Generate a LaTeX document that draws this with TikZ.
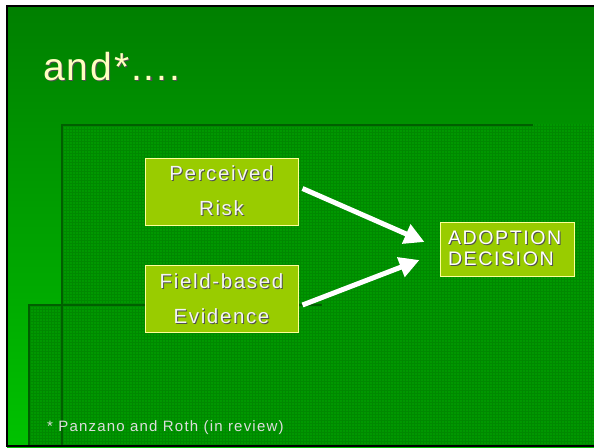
\documentclass[tikz,border=0pt]{standalone}
\usepackage{fontspec}
\setmainfont[LetterSpace=8]{Liberation Sans}
\usetikzlibrary{positioning,arrows.meta}

\definecolor{bgtop}{HTML}{007F00}
\definecolor{bgbottom}{HTML}{00C200}
\definecolor{texfill}{HTML}{009800}
\definecolor{texline}{HTML}{007000}
\definecolor{edgedark}{HTML}{005F00}
\definecolor{boxfill}{HTML}{99CC00}
\definecolor{boxline}{HTML}{FFFF99}
\definecolor{boxtext}{HTML}{F4F4F4}
\definecolor{shadowgray}{HTML}{505050}
\definecolor{titletext}{HTML}{FFFFC0}
\definecolor{notetext}{HTML}{DDDDDD}

\newcommand{\shd}[1]{\leavevmode\rlap{\kern1pt\raisebox{-1pt}{\color{shadowgray}#1}}#1}

\begin{document}
\begin{tikzpicture}[x=1pt,y=-1pt,node distance=3cm,on grid,
    box/.style={draw=boxline,fill=boxfill,line width=1pt,minimum width=153pt,minimum height=67pt,
      align=center,text=boxtext,font=\fontsize{20.5}{35}\selectfont},
    bigarrow/.style={draw=white,line width=5pt,arrows={-Triangle[length=20pt 0,width=20pt 0]}},
    gridline/.style={texline,line width=.7pt,opacity=.4}]
  \useasboundingbox (0,0) rectangle (594,447);
  % slide background
  \fill[white] (0,0) rectangle (594,447);
  \shade[top color=bgtop,bottom color=bgbottom] (7,6) rectangle (594,447);
  \draw[black,line width=2.5pt] (7,447) -- (7,6) -- (594,6);
  \draw[black,line width=2pt] (7,446) -- (594,446);
  % textured panels
  \fill[texfill] (61,124) rectangle (594,445);
  \fill[texfill] (28,304) rectangle (594,445);
  \draw[gridline] (61,124) grid[step=3pt] (594,445);
  \draw[gridline] (28,304) grid[step=3pt] (61,445);
  \draw[edgedark,line width=2.5pt] (62,445) -- (62,125) -- (533,125);
  \draw[edgedark,line width=2.5pt] (29,445) -- (29,305) -- (322,305);
  % title
  \node[anchor=base west,inner sep=0pt,text=titletext,font=\fontsize{39}{42}\selectfont\addfontfeature{LetterSpace=5}]
    (title) at (43,80) {\shd{and*....}};
  % boxes
  \node[box] (risk) at (221.5,191.5) {\shd{Perceived}\\\shd{Risk}};
  \node[box] (evidence) [below=107.5pt of risk] {\shd{Field-based}\\\shd{Evidence}};
  \node[draw=boxline,fill=boxfill,line width=1pt,minimum width=134pt,minimum height=54pt,
    text width=118pt,inner sep=8pt,align=left,text=white,font=\fontsize{19.6}{21}\selectfont]
    (decision) [below right=57.5pt and 285.5pt of risk] {\shd{ADOPTION}\\\shd{DECISION}};
  \draw[bigarrow] ([shift={(4,-3)}]risk.east) -- ([shift={(-15,-7)}]decision.west);
  \draw[bigarrow] ([shift={(4,6)}]evidence.east) -- ([shift={(-20,11)}]decision.west);
  % footnote
  \node[anchor=base west,inner sep=0pt,text=notetext,font=\fontsize{15}{18}\selectfont]
    (note) at (47,431) {* Panzano and Roth (in review)};
\end{tikzpicture}
\end{document}
